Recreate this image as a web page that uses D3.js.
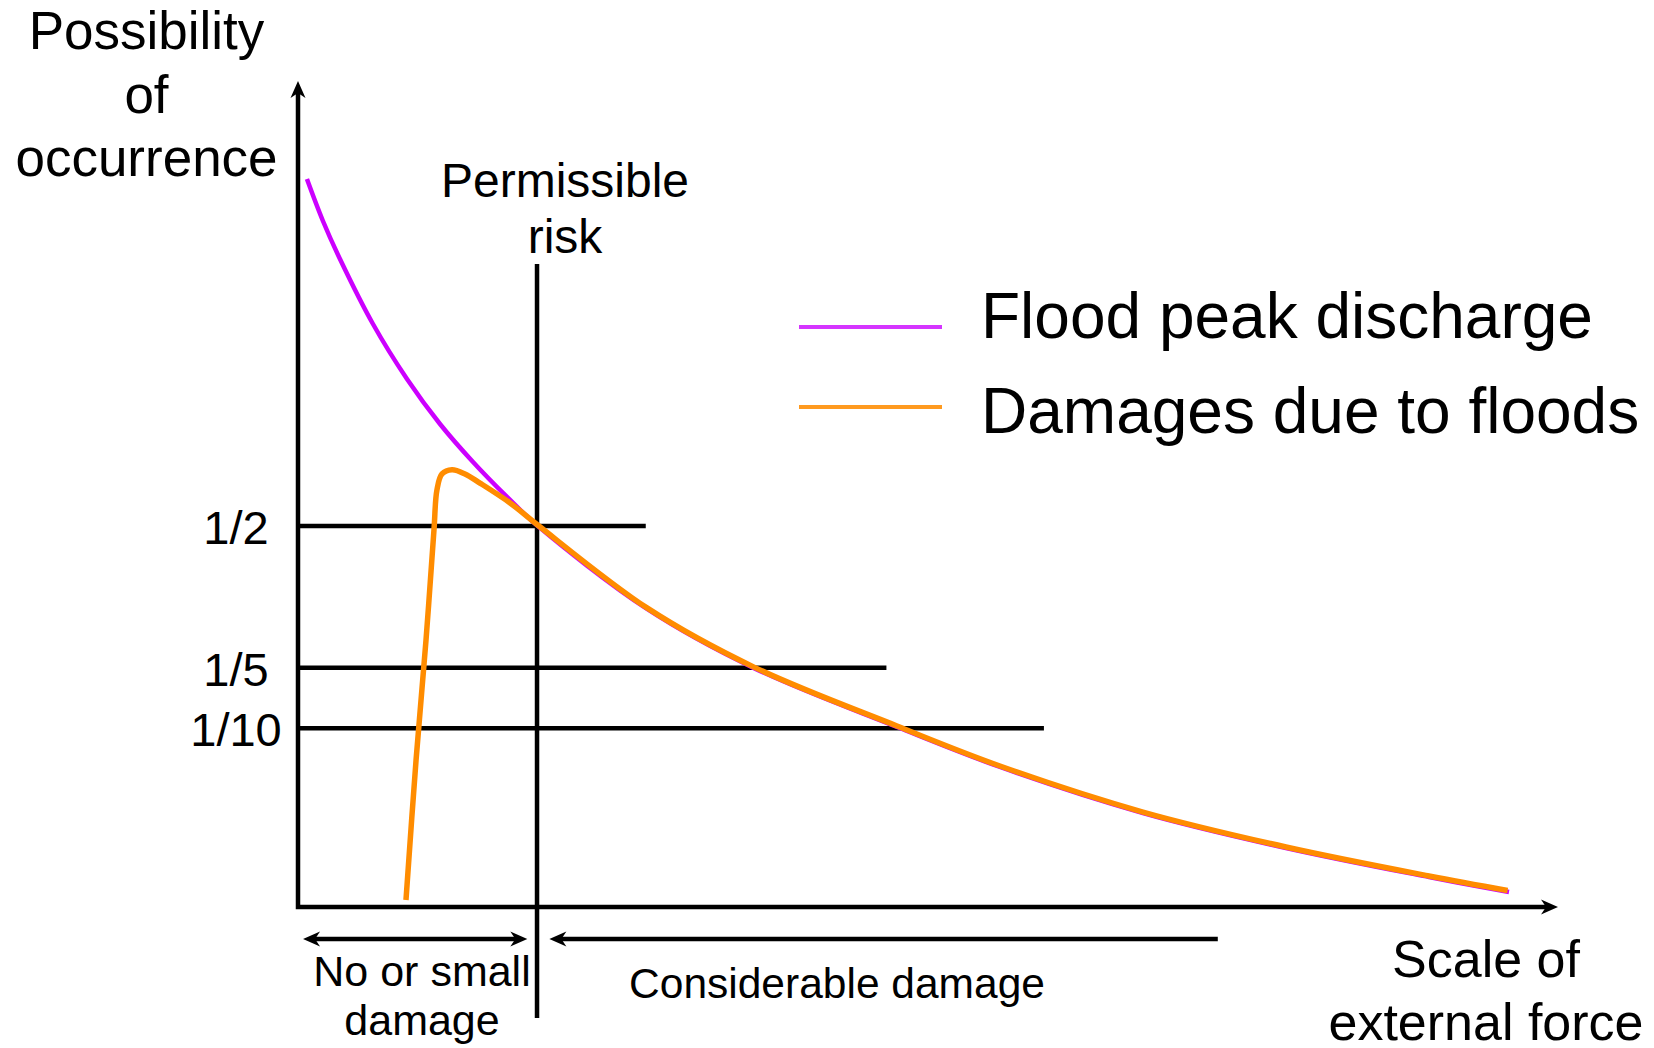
<!DOCTYPE html>
<html>
<head>
<meta charset="utf-8">
<script src="https://cdn.jsdelivr.net/npm/d3@7"></script>
<style>
  html, body { margin: 0; padding: 0; background: #fff; }
  svg text { font-family: "Liberation Sans", Arial, Helvetica, sans-serif; fill: #000; }
</style>
</head>
<body>
<svg id="chart" width="1654" height="1048"></svg>
<script>
// ---------------- data (abstract units: x = scale of external force, y = possibility of occurrence) ----------------
const floodX = [0.71, 1.98, 3.33, 5.95, 8.65, 11.27, 13.89, 16.59, 18.97, 27.70, 36.19, 47.54, 55.71, 67.06, 78.41, 89.76, 96.11];
const floodY = [87.92, 82.85, 78.26, 70.41, 63.77, 58.33, 53.74, 49.52, 46.1, 36.0, 28.85, 21.74, 16.91, 11.35, 7.13, 3.62, 1.81];

const damageX = [8.57, 9.37, 10.16, 10.79, 11.03, 11.43, 12.22, 13.25, 14.44, 16.83, 18.97, 27.70, 36.19, 47.54, 55.71, 67.06, 78.41, 89.76, 96.0];
const damageY = [0.85, 17.75, 32.25, 45.5, 50.4, 52.3, 52.8, 52.3, 51.2, 48.8, 46.2, 36.12, 28.97, 21.86, 17.03, 11.47, 7.25, 3.75, 2.0];

const probTickValues = [46.0, 28.9, 21.6];
const probTickLabels = ["1/2", "1/5", "1/10"];
const refLineEnds = [27.6, 46.7, 59.2];      // x where each probability line stops
const permissibleX = 18.97;                  // permissible risk threshold
const permissibleSpan = [77.66, -13.4];      // vertical extent of the threshold line (y units)
const zoneArrowY = -3.86;
const smallDamageSpan = [0.4, 18.2];
const considerableSpan = [19.95, 73.0];

const seriesNames = ["Flood peak discharge", "Damages due to floods"];
const seriesColors = ["#CC00FF", "#FF8C00"];
const legendColors = ["#D535FF", "#FF9A1F"];

// ---------------- scales ----------------
const svg = d3.select("#chart");
const x = d3.scaleLinear().domain([0, 100]).range([298, 1558]);
const y = d3.scaleLinear().domain([0, 100]).range([907, 79]);

// arrow marker (stealth), tip beyond the path end
const defs = svg.append("defs");
defs.append("marker")
  .attr("id", "arrow")
  .attr("markerUnits", "userSpaceOnUse")
  .attr("viewBox", "-18 -9 28 18")
  .attr("markerWidth", 28).attr("markerHeight", 18)
  .attr("refX", 0).attr("refY", 0)
  .attr("orient", "auto-start-reverse")
  .append("path")
  .attr("d", "M8,0 L-9,-7.5 L-4,0 L-9,7.5 Z")
  .attr("fill", "#000");

// ---------------- axes ----------------
svg.append("path")
  .attr("d", `M${x(0)},${y(100) + 10} V${y(0)} H${x(100) - 8}`)
  .attr("fill", "none").attr("stroke", "#000").attr("stroke-width", 4.5)
  .attr("stroke-linejoin", "miter")
  .attr("marker-start", "url(#arrow)")
  .attr("marker-end", "url(#arrow)");

// tick labels via d3 axis
const yAxis = d3.axisLeft(y)
  .tickValues(probTickValues)
  .tickFormat((d, i) => probTickLabels[i])
  .tickSize(0).tickSizeOuter(0);
const gAxis = svg.append("g").attr("transform", `translate(${x(0)},0)`).call(yAxis);
gAxis.select(".domain").remove();
gAxis.selectAll("text")
  .attr("x", -62).attr("dy", "0.37em")
  .attr("text-anchor", "middle")
  .attr("font-size", 47)
  .attr("font-family", "Liberation Sans, Arial, sans-serif")
  .attr("fill", "#000");

// horizontal probability lines
svg.append("g").selectAll("line")
  .data(probTickValues)
  .join("line")
  .attr("x1", x(0)).attr("x2", (d, i) => x(refLineEnds[i]))
  .attr("y1", d => y(d)).attr("y2", d => y(d))
  .attr("stroke", "#000").attr("stroke-width", 4.5);

// permissible risk line
svg.append("line")
  .attr("x1", x(permissibleX)).attr("x2", x(permissibleX))
  .attr("y1", y(permissibleSpan[0])).attr("y2", y(permissibleSpan[1]))
  .attr("stroke", "#000").attr("stroke-width", 4.5);

// ---------------- curves ----------------
const line = d3.line().x(d => x(d[0])).y(d => y(d[1])).curve(d3.curveCatmullRom.alpha(0.5));
const floodPts = floodX.map((v, i) => [v, floodY[i]]);
const damagePts = damageX.map((v, i) => [v, damageY[i]]);

svg.append("path").attr("d", line(floodPts))
  .attr("fill", "none").attr("stroke", seriesColors[0]).attr("stroke-width", 4.5);
svg.append("path").attr("d", line(damagePts))
  .attr("fill", "none").attr("stroke", seriesColors[1]).attr("stroke-width", 5.5)
  .attr("stroke-linejoin", "round");

// ---------------- zone arrows ----------------
svg.append("line")
  .attr("x1", x(smallDamageSpan[0]) + 8).attr("x2", x(smallDamageSpan[1]) - 8)
  .attr("y1", y(zoneArrowY)).attr("y2", y(zoneArrowY))
  .attr("stroke", "#000").attr("stroke-width", 4.5)
  .attr("marker-start", "url(#arrow)").attr("marker-end", "url(#arrow)");
svg.append("line")
  .attr("x1", x(considerableSpan[0]) + 8).attr("x2", x(considerableSpan[1]))
  .attr("y1", y(zoneArrowY)).attr("y2", y(zoneArrowY))
  .attr("stroke", "#000").attr("stroke-width", 4.5)
  .attr("marker-start", "url(#arrow)");

// ---------------- text ----------------
function label(lines, cx, baselines, size, anchor) {
  const t = svg.append("text").attr("font-size", size).attr("text-anchor", anchor || "middle");
  lines.forEach((s, i) => t.append("tspan").attr("x", cx).attr("y", baselines[i]).text(s));
}
label(["Possibility", "of", "occurrence"], 146.5, [49, 113, 176], 53);
label(["Permissible", "risk"], 565, [197, 253], 48);
label(["No or small", "damage"], 422, [986, 1035], 43);
label(["Considerable damage"], 837, [998], 42.5);
label(["Scale of", "external force"], 1486, [977, 1040], 52);

// ---------------- legend ----------------
const legendY = [327, 407];
const legendTextY = [338, 433];
const leg = svg.append("g");
seriesNames.forEach((name, i) => {
  leg.append("line")
    .attr("x1", 799).attr("x2", 942)
    .attr("y1", legendY[i]).attr("y2", legendY[i])
    .attr("stroke", legendColors[i]).attr("stroke-width", 4);
  leg.append("text")
    .attr("x", 981).attr("y", legendTextY[i])
    .attr("font-size", 64)
    .text(name);
});
</script>
</body>
</html>
